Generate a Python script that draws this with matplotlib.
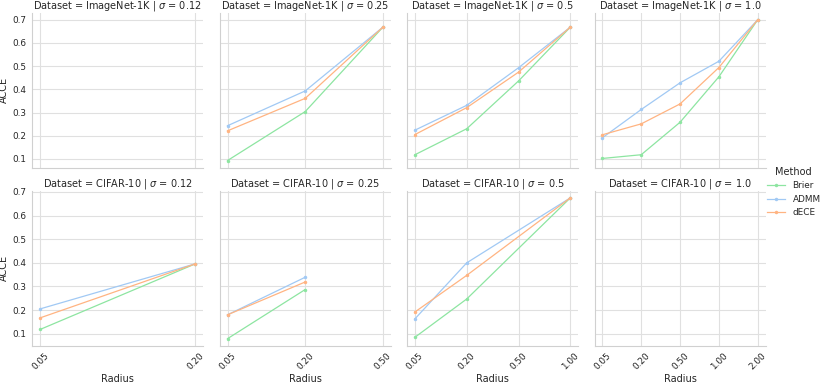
import matplotlib
matplotlib.use("Agg")
import matplotlib.pyplot as plt
from matplotlib.lines import Line2D

# ---------------- data ----------------
datasets = ["ImageNet-1K", "CIFAR-10"]
sigmas = ["0.12", "0.25", "0.5", "1.0"]
methods = ["Brier", "ADMM", "dECE"]
colors = {"Brier": "#8de5a1", "ADMM": "#a1c9f4", "dECE": "#ffb482"}

# radius categories shown on each column's x axis
col_radius_labels = [
    ["0.05", "0.20"],
    ["0.05", "0.20", "0.50"],
    ["0.05", "0.20", "0.50", "1.00"],
    ["0.05", "0.20", "0.50", "1.00", "2.00"],
]

# ImageNet-1K
in_012_radius = []
in_012 = {"Brier": [], "ADMM": [], "dECE": []}
in_025_radius = ["0.05", "0.20", "0.50"]
in_025 = {"Brier": [0.093, 0.304, 0.668],
          "ADMM": [0.243, 0.393, 0.668],
          "dECE": [0.221, 0.361, 0.668]}
in_05_radius = ["0.05", "0.20", "0.50", "1.00"]
in_05 = {"Brier": [0.118, 0.230, 0.436, 0.668],
         "ADMM": [0.224, 0.331, 0.493, 0.668],
         "dECE": [0.205, 0.321, 0.474, 0.668]}
in_10_radius = ["0.05", "0.20", "0.50", "1.00", "2.00"]
in_10 = {"Brier": [0.102, 0.118, 0.258, 0.454, 0.700],
         "ADMM": [0.191, 0.313, 0.428, 0.521, 0.700],
         "dECE": [0.204, 0.251, 0.337, 0.494, 0.700]}

# CIFAR-10
c_012_radius = ["0.05", "0.20"]
c_012 = {"Brier": [0.118, 0.396],
         "ADMM": [0.205, 0.396],
         "dECE": [0.167, 0.396]}
c_025_radius = ["0.05", "0.20"]
c_025 = {"Brier": [0.079, 0.287],
         "ADMM": [0.180, 0.339],
         "dECE": [0.180, 0.319]}
c_05_radius = ["0.05", "0.20", "1.00"]
c_05 = {"Brier": [0.085, 0.247, 0.675],
        "ADMM": [0.163, 0.400, 0.675],
        "dECE": [0.192, 0.347, 0.675]}
c_10_radius = []
c_10 = {"Brier": [], "ADMM": [], "dECE": []}

panels = [
    [(in_012_radius, in_012), (in_025_radius, in_025), (in_05_radius, in_05), (in_10_radius, in_10)],
    [(c_012_radius, c_012), (c_025_radius, c_025), (c_05_radius, c_05), (c_10_radius, c_10)],
]

# ---------------- plot ----------------
plt.rcParams["font.family"] = ["DejaVu Sans"]
text_color = "#262626"
fig, axes = plt.subplots(2, 4, figsize=(8.31, 3.84), dpi=100, sharey="row")
fig.subplots_adjust(left=0.0389, right=0.9212, top=0.9670, bottom=0.0997,
                    wspace=0.0965, hspace=0.15)

for r, ds in enumerate(datasets):
    for c, sg in enumerate(sigmas):
        ax = axes[r, c]
        cats = col_radius_labels[c]
        radius, vals = panels[r][c]
        xs = [cats.index(v) for v in radius]
        for m in methods:
            if len(vals[m]):
                ax.plot(xs, vals[m], color=colors[m], lw=0.9, marker="o",
                        markersize=2.5, markeredgewidth=0, zorder=3)
        ax.set_xticks(range(len(cats)))
        ax.set_xlim(-0.05 * (len(cats) - 1), (len(cats) - 1) * 1.05)
        ax.set_title(f"Dataset = {ds} | $\\sigma$ = {sg}", fontsize=7,
                     color=text_color, pad=0.8)
        ax.grid(True, color="#e0e0e0", lw=0.8)
        ax.set_axisbelow(True)
        for s in ["top", "right"]:
            ax.spines[s].set_visible(False)
        for s in ["left", "bottom"]:
            ax.spines[s].set_color("#d0d0d0")
            ax.spines[s].set_linewidth(0.8)
        ax.tick_params(length=0, labelsize=6.4, colors=text_color, pad=4)
        if r == 1:
            ax.set_xticklabels(cats, rotation=45)
            ax.set_xlabel("Radius", fontsize=7, color=text_color, labelpad=2)
        else:
            ax.tick_params(labelbottom=False)
        if c == 0:
            ax.set_ylabel("ACCE", fontsize=7, color=text_color, labelpad=3)
            ax.set_yticks([0.1, 0.2, 0.3, 0.4, 0.5, 0.6, 0.7])
        else:
            ax.tick_params(labelleft=False)

# ylims from data (5% margins per row)
for r in range(2):
    allv = [v for rad, d in panels[r] for m in methods for v in d[m]]
    lo, hi = min(allv), max(allv)
    pad = 0.05 * (hi - lo)
    axes[r, 0].set_ylim(lo - pad, hi + pad)

handles = [Line2D([], [], color=colors[m], lw=0.9, marker="o", markersize=2.5,
                  markeredgewidth=0) for m in methods]
leg = fig.legend(handles, methods, title="Method", loc="center left",
                 bbox_to_anchor=(0.913, 0.5), frameon=False, fontsize=6.4,
                 title_fontsize=7, handlelength=2.1, labelspacing=0.5)
for t in leg.get_texts():
    t.set_color(text_color)
leg.get_title().set_color(text_color)

fig.savefig("out.png", dpi=100)
